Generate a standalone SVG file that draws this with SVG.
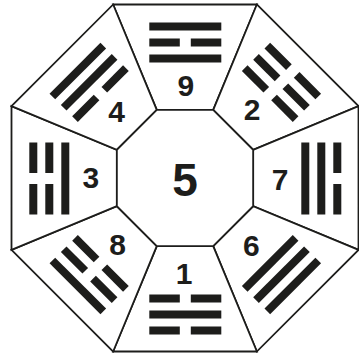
<svg xmlns="http://www.w3.org/2000/svg" xmlns:xlink="http://www.w3.org/1999/xlink" width="359" height="355" viewBox="0 0 359 355">
<style>
.sec{fill:#fff;stroke:#1d1d1b;stroke-width:1.8;stroke-linejoin:miter}
.bar{fill:#1d1d1b}
.num{font-family:"Liberation Sans",Arial,sans-serif;font-weight:bold;font-size:30px;fill:#1d1d1b;text-anchor:middle}
.big{font-size:46px}
</style>
<defs>
<polygon id="sector" points="-71.9,-173.5 71.9,-173.5 28.2,-68.15 -28.2,-68.15"/>
<rect id="solid" class="bar" x="-36" y="-4" width="72" height="8"/>
<g id="broken" class="bar"><rect x="-36" y="-4" width="30.5" height="8"/><rect x="5.5" y="-4" width="30.5" height="8"/></g>
</defs>
<rect width="359" height="355" fill="#fff"/>
<g id="sector-9">
<use xlink:href="#sector" href="#sector" class="sec" transform="translate(185,178)"/>
<g transform="translate(185.3,178.5)"><use href="#solid" y="-152"/><use href="#broken" y="-136"/><use href="#solid" y="-120"/></g>
<text class="num" x="185.8" y="95.7">9</text>
</g>
<g id="sector-2">
<use href="#sector" class="sec" transform="translate(185,178) rotate(45)"/>
<g transform="translate(185.3,178.5) rotate(45)"><use href="#broken" y="-152"/><use href="#broken" y="-136"/><use href="#broken" y="-120"/></g>
<text class="num" x="252" y="120.2">2</text>
</g>
<g id="sector-7">
<use href="#sector" class="sec" transform="translate(185,178) rotate(90)"/>
<g transform="translate(185.3,178.5) rotate(90)"><use href="#broken" y="-152"/><use href="#solid" y="-136"/><use href="#solid" y="-120"/></g>
<text class="num" x="280" y="189.7">7</text>
</g>
<g id="sector-6">
<use href="#sector" class="sec" transform="translate(185,178) rotate(135)"/>
<g transform="translate(185.3,178.5) rotate(135)"><use href="#solid" y="-152"/><use href="#solid" y="-136"/><use href="#solid" y="-120"/></g>
<text class="num" x="251.3" y="256.2">6</text>
</g>
<g id="sector-1">
<use href="#sector" class="sec" transform="translate(185,178) rotate(180)"/>
<g transform="translate(185.3,178.5) rotate(180)"><use href="#broken" y="-152"/><use href="#solid" y="-136"/><use href="#broken" y="-120"/></g>
<text class="num" x="184" y="283.7">1</text>
</g>
<g id="sector-8">
<use href="#sector" class="sec" transform="translate(185,178) rotate(225)"/>
<g transform="translate(185.3,178.5) rotate(225)"><use href="#solid" y="-152"/><use href="#broken" y="-136"/><use href="#broken" y="-120"/></g>
<text class="num" x="117.5" y="254.7">8</text>
</g>
<g id="sector-3">
<use href="#sector" class="sec" transform="translate(185,178) rotate(270)"/>
<g transform="translate(185.3,178.5) rotate(270)"><use href="#broken" y="-152"/><use href="#broken" y="-136"/><use href="#solid" y="-120"/></g>
<text class="num" x="90.8" y="187.7">3</text>
</g>
<g id="sector-4">
<use href="#sector" class="sec" transform="translate(185,178) rotate(315)"/>
<g transform="translate(185.3,178.5) rotate(315)"><use href="#solid" y="-152"/><use href="#solid" y="-136"/><use href="#broken" y="-120"/></g>
<text class="num" x="116.7" y="122.4">4</text>
</g>
<g id="center-5">
<polygon class="sec" points="156.8,109.85 213.2,109.85 253.15,149.8 253.15,206.2 213.2,246.15 156.8,246.15 116.85,206.2 116.85,149.8"/>
<text class="num big" x="185" y="196">5</text>
</g>
<g id="connectors"/>
</svg>
